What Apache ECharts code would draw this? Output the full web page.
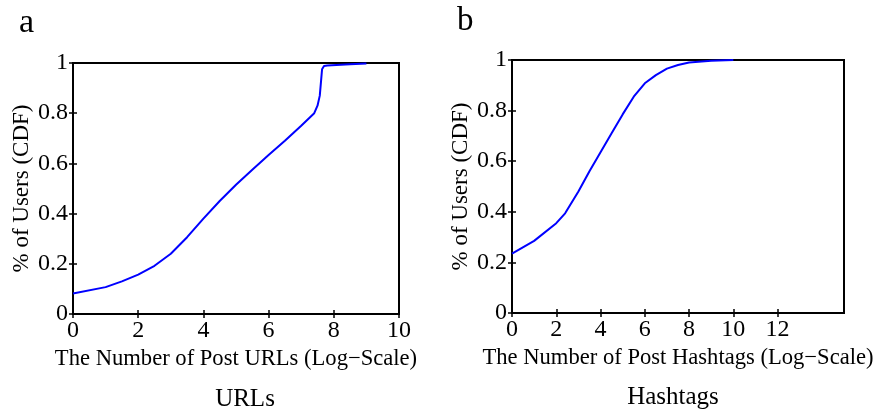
<!DOCTYPE html>
<html>
<head>
<meta charset="utf-8">
<script src="https://cdn.jsdelivr.net/npm/echarts@6/dist/echarts.min.js"></script>
<style>html,body{margin:0;padding:0;background:#fff}#c{width:877px;height:412px}</style>
</head>
<body>
<div id="c"></div>
<script>
// URLs panel (a)
const urlX = [0, 1, 1.5, 2, 2.5, 3, 3.5, 4, 4.5, 5, 5.5, 6, 6.5, 7, 7.4, 7.5, 7.57, 7.61, 7.64, 7.7, 7.8, 8.5, 9];
const urlY = [0.082, 0.107, 0.13, 0.157, 0.192, 0.24, 0.306, 0.38, 0.45, 0.515, 0.575, 0.633, 0.69, 0.75, 0.80, 0.83, 0.87, 0.93, 0.975, 0.988, 0.99, 0.995, 0.998];
// Hashtags panel (b)
const hashX = [0, 1, 2, 2.4, 3, 3.5, 4, 4.5, 5, 5.5, 6, 6.5, 7, 7.5, 8, 9, 10];
const hashY = [0.235, 0.285, 0.355, 0.394, 0.48, 0.56, 0.635, 0.71, 0.785, 0.855, 0.908, 0.94, 0.966, 0.98, 0.99, 0.997, 1.0];
// tick labels
const urlXTicks = [0, 2, 4, 6, 8, 10];
const hashXTicks = [0, 2, 4, 6, 8, 10, 12];
const yTicks = [0, 0.2, 0.4, 0.6, 0.8, 1];

const FONT = 'Liberation Serif';
const chart = echarts.init(document.getElementById('c'));

function xAx(grid, pos, max, ticks, labels) {
  return {
    type: 'value', gridIndex: grid, position: pos, min: 0, max: max, interval: 2,
    axisLine: { show: false },
    axisTick: { show: true, inside: true, length: 4, lineStyle: { color: '#000', width: 1.5 }, customValues: ticks },
    axisLabel: { show: labels, customValues: ticks, color: '#000', fontFamily: FONT, fontSize: 24, margin: 5 },
    splitLine: { show: false }
  };
}
function yAx(grid, pos, labels) {
  return {
    type: 'value', gridIndex: grid, position: pos, min: 0, max: 1, interval: 0.2,
    axisLine: { show: false },
    axisTick: { show: true, inside: true, length: 4, lineStyle: { color: '#000', width: 1.5 }, customValues: yTicks },
    axisLabel: { show: labels, customValues: yTicks, color: '#000', fontFamily: FONT, fontSize: 24, margin: 5 },
    splitLine: { show: false }
  };
}

const xa = [
  xAx(0, 'bottom', 10, urlXTicks, true),
  xAx(0, 'top', 10, urlXTicks, false),
  xAx(1, 'bottom', 15, hashXTicks, true),
  xAx(1, 'top', 15, hashXTicks, false)
];
xa[0].name = 'The Number of Post URLs (Log\u2212Scale)';
xa[2].name = 'The Number of Post Hashtags (Log\u2212Scale)';
[xa[0], xa[2]].forEach(a => {
  a.nameLocation = 'middle'; a.nameGap = 28;
  a.nameTextStyle = { color: '#000', fontFamily: FONT, fontSize: 22.6 };
});
const ya = [
  yAx(0, 'left', true), yAx(0, 'right', false),
  yAx(1, 'left', true), yAx(1, 'right', false)
];
[ya[0], ya[2]].forEach(a => {
  a.name = '% of Users (CDF)'; a.nameLocation = 'middle'; a.nameGap = 40;
  a.nameTextStyle = { color: '#000', fontFamily: FONT, fontSize: 23 };
});

const titleStyle = (s) => ({ color: '#000', fontFamily: FONT, fontSize: s, fontWeight: 'normal' });

chart.setOption({
  animation: false,
  backgroundColor: '#fff',
  title: [
    { text: 'a', left: 14, top: 1, textStyle: titleStyle(34) },
    { text: 'b', left: 452, top: 0, textStyle: titleStyle(33) },
    { text: 'URLs', left: 240, top: 382, textAlign: 'center', textStyle: titleStyle(25) },
    { text: 'Hashtags', left: 668, top: 380, textAlign: 'center', textStyle: titleStyle(25) }
  ],
  grid: [
    { left: 73, right: 478, top: 63, bottom: 98, outerBoundsMode: 'none', containLabel: false, show: true, borderColor: '#000', borderWidth: 2, backgroundColor: 'transparent' },
    { left: 512, right: 33, top: 60, bottom: 99, outerBoundsMode: 'none', containLabel: false, show: true, borderColor: '#000', borderWidth: 2, backgroundColor: 'transparent' }
  ],
  xAxis: xa,
  yAxis: ya,
  series: [
    { type: 'line', xAxisIndex: 0, yAxisIndex: 0, showSymbol: false, silent: true,
      lineStyle: { color: '#0000ff', width: 2 }, data: urlX.map((x, i) => [x, urlY[i]]) },
    { type: 'line', xAxisIndex: 2, yAxisIndex: 2, showSymbol: false, silent: true,
      lineStyle: { color: '#0000ff', width: 2 }, data: hashX.map((x, i) => [x, hashY[i]]) }
  ]
});
</script>
</body>
</html>
